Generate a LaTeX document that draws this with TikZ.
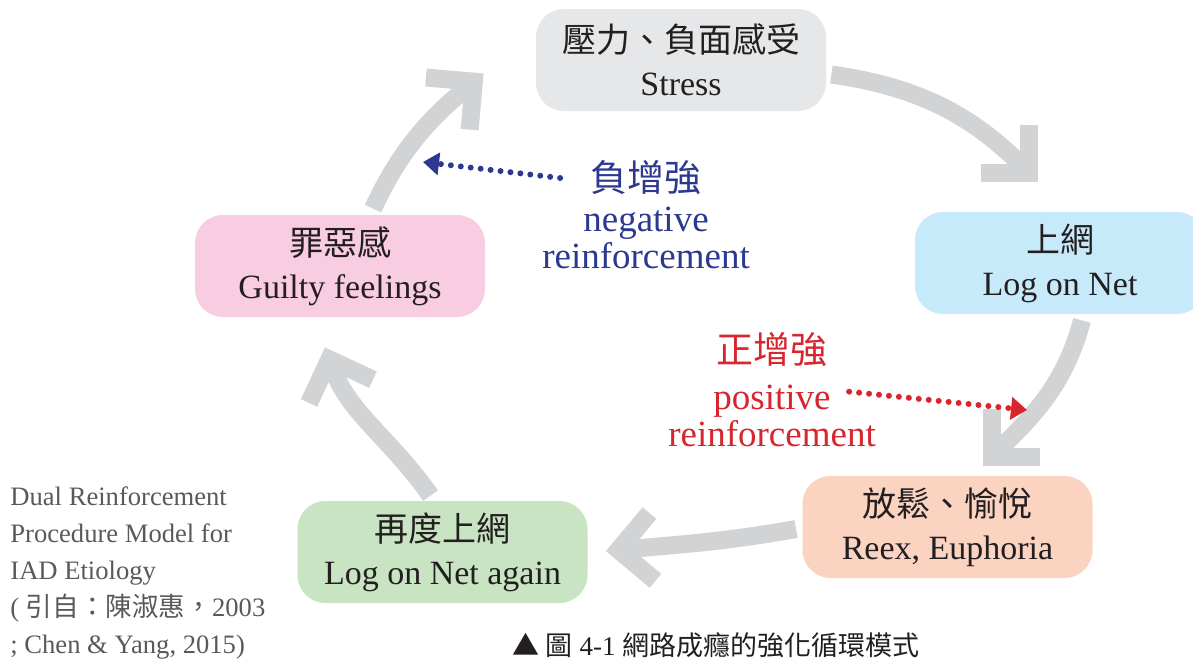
\documentclass[tikz,border=0pt]{standalone}
\usepackage{fontspec}
\setmainfont{Liberation Serif}
\newfontfamily\cjk{Noto Sans CJK TC}
\usetikzlibrary{arrows.meta, positioning}
\definecolor{inkblack}{HTML}{231F20}
\definecolor{loopgray}{HTML}{D1D3D4}
\definecolor{stressfill}{HTML}{E6E7E8}
\definecolor{netfill}{HTML}{C7EAFB}
\definecolor{guiltfill}{HTML}{F8CCE1}
\definecolor{relaxfill}{HTML}{FBD3C1}
\definecolor{againfill}{HTML}{C8E4C3}
\definecolor{negblue}{HTML}{2B3990}
\definecolor{posred}{HTML}{D7262E}
\definecolor{citegray}{HTML}{595959}

\begin{document}
\begin{tikzpicture}[x=0.5pt, y=0.5pt,
        box/.style = {rounded corners=14pt, minimum width=145pt,
                        minimum height=51pt, align=center, text=inkblack,
                        font=\fontsize{17}{21.5}\selectfont},
        loop/.style = {draw=loopgray, line width=9pt,
                        -{Straight Barb[length=17pt, width=34pt]}},
        hint/.style = {line width=3pt, line cap=round,
                        dash pattern=on 0pt off 5pt},
        label/.style = {align=center, inner sep=0pt,
                        font=\fontsize{18.5}{18.5}\selectfont}]
        \useasboundingbox (0,0) rectangle (1193,-659);

        % the five states of the loop
        \node[box, fill=stressfill] (stress) at (681,-60) {{\cjk 壓力、負面感受}\\Stress};
        \node[box, fill=netfill] (lognet) at (1060,-263) {{\cjk 上網}\\Log on Net};
        \node[box, fill=relaxfill] (relax) at (947.5,-527) {{\cjk 放鬆、愉悅}\\Reex, Euphoria};
        \node[box, fill=againfill] (again) at (442.5,-552) {{\cjk 再度上網}\\Log on Net again};
        \node[box, fill=guiltfill] (guilt) at (340,-266) {{\cjk 罪惡感}\\Guilty feelings};

        \draw[loop] ([shift={(5,-14.5)}]stress.east) to[out=-8, in=135] ([shift={(-22,30)}]lognet.north);
        \draw[loop] ([shift={(22,-6)}]lognet.south) to[out=-105, in=45] ([shift={(35.5,10)}]relax.north);
        \draw[loop] ([shift={(-6,-2)}]relax.west) to[out=190, in=5] ([shift={(18,1)}]again.east);
        \draw[loop] ([shift={(-12,5)}]again.north) to[out=125, in=-70] ([shift={(-15,-30)}]guilt.south);
        \draw[loop] ([shift={(33,6)}]guilt.north) to[out=65, in=220] ([shift={(-52,-13.5)}]stress.west);

        % reinforcement labels
        \node[label, text=negblue] (negzh) at (646,-178) {\cjk 負增強};
        \node[label, text=negblue] (negen) at (646,-238) {negative\\reinforcement};
        \node[label, text=posred] (poszh) at (772,-350) {\cjk 正增強};
        \node[label, text=posred] (posen) at (772,-416) {positive\\reinforcement};

        \coordinate (negtip) at (423,-162);
        \coordinate (postip) at (1027,-410);
        \draw[hint, draw=negblue, -{Triangle[length=8pt, width=11pt]}] ([xshift=-15]negzh.west) -- (negtip);
        \draw[hint, draw=posred, -{Triangle[length=8pt, width=11pt]}] ([shift={(-27,-7)}]posen.north east) -- (postip);

        % source and caption
        \node[anchor=north west, align=left, inner sep=0pt, text=citegray,
                font=\fontsize{13.3}{18.6}\selectfont] (cite) at (10,-486)
                {Dual Reinforcement\\Procedure Model for\\IAD Etiology\\( {\cjk 引自：陳淑惠，}2003\\; Chen \& Yang, 2015)};
        \node[text=inkblack, font=\fontsize{13.5}{13.5}\selectfont] (caption) at (716,-645)
                {{\cjk ▲ 圖} 4-1 {\cjk 網路成癮的強化循環模式}};
    \end{tikzpicture}
\end{document}
